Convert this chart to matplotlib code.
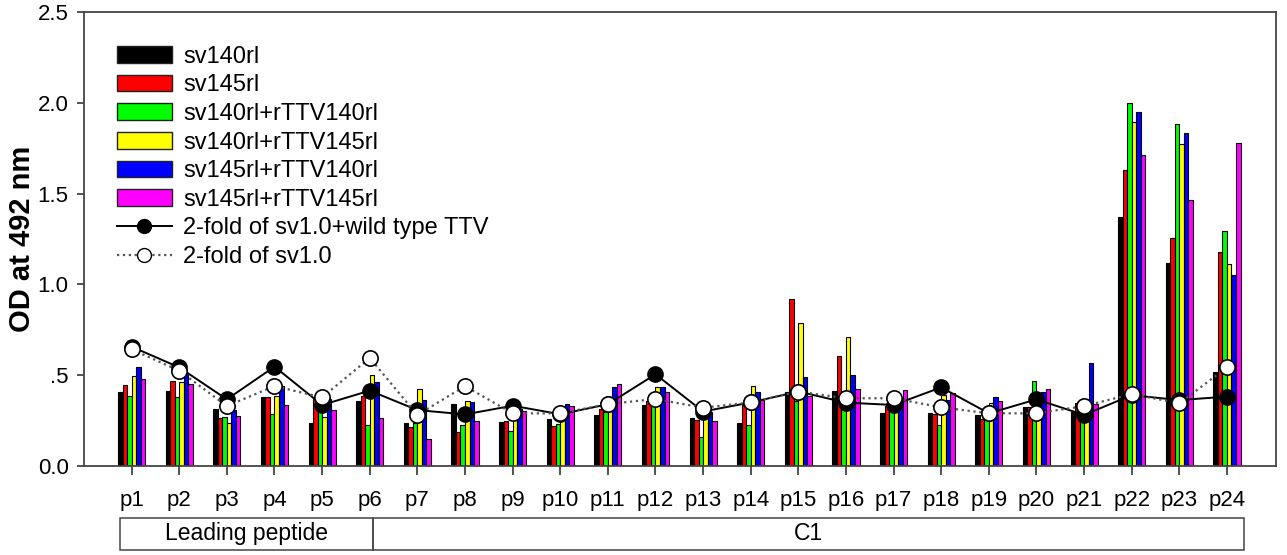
import matplotlib
matplotlib.use("Agg")
import matplotlib.pyplot as plt
import matplotlib.patches as mpatches
import matplotlib.transforms as mtransforms
from matplotlib.lines import Line2D
import numpy as np

plt.rcParams["font.family"] = ["Liberation Sans", "DejaVu Sans"]

peptides = [f"p{i}" for i in range(1, 25)]

series_names = [
    "sv140rl",
    "sv145rl",
    "sv140rl+rTTV140rl",
    "sv140rl+rTTV145rl",
    "sv145rl+rTTV140rl",
    "sv145rl+rTTV145rl",
]
series_colors = ["#000000", "#FF0000", "#00FF00", "#FFFF00", "#0000FF", "#FF00FF"]

sv140rl = [0.405, 0.411, 0.312, 0.382, 0.235, 0.360, 0.235, 0.341, 0.244, 0.261, 0.283, 0.334,
           0.263, 0.235, 0.406, 0.415, 0.294, 0.290, 0.281, 0.327, 0.300, 1.370, 1.120, 0.520]
sv145rl = [0.446, 0.466, 0.263, 0.382, 0.367, 0.385, 0.217, 0.187, 0.249, 0.222, 0.312, 0.360,
           0.253, 0.336, 0.920, 0.607, 0.330, 0.285, 0.257, 0.323, 0.345, 1.630, 1.257, 1.178]
sv140_r140 = [0.384, 0.378, 0.268, 0.286, 0.305, 0.228, 0.239, 0.226, 0.194, 0.230, 0.300, 0.341,
              0.158, 0.228, 0.360, 0.312, 0.335, 0.226, 0.260, 0.468, 0.280, 2.000, 1.881, 1.296]
sv140_r145 = [0.497, 0.461, 0.235, 0.387, 0.268, 0.503, 0.422, 0.358, 0.300, 0.253, 0.310, 0.433,
              0.290, 0.440, 0.786, 0.712, 0.335, 0.390, 0.345, 0.400, 0.300, 1.894, 1.773, 1.110]
sv145_r140 = [0.543, 0.510, 0.308, 0.440, 0.367, 0.464, 0.363, 0.352, 0.312, 0.341, 0.437, 0.433,
              0.300, 0.406, 0.488, 0.503, 0.363, 0.363, 0.378, 0.409, 0.565, 1.951, 1.836, 1.052]
sv145_r145 = [0.479, 0.450, 0.275, 0.338, 0.308, 0.264, 0.149, 0.248, 0.305, 0.332, 0.452, 0.406,
              0.250, 0.363, 0.385, 0.426, 0.418, 0.400, 0.360, 0.426, 0.341, 1.713, 1.465, 1.777]
bar_series = [sv140rl, sv145rl, sv140_r140, sv140_r145, sv145_r140, sv145_r145]

wild_ttv = [0.657, 0.543, 0.367, 0.547, 0.336, 0.415, 0.308, 0.284, 0.332, 0.285, 0.340, 0.505,
            0.300, 0.350, 0.410, 0.349, 0.336, 0.433, 0.290, 0.367, 0.281, 0.390, 0.363, 0.382]
sv10 = [0.642, 0.525, 0.330, 0.440, 0.378, 0.595, 0.281, 0.440, 0.290, 0.290, 0.341, 0.369,
        0.321, 0.350, 0.410, 0.373, 0.373, 0.323, 0.290, 0.290, 0.330, 0.396, 0.345, 0.543]

regions = ["Leading peptide", "C1"]

W, H = 1287, 555
fig = plt.figure(figsize=(W / 100, H / 100), dpi=100)
ax = fig.add_axes([84 / W, 1 - 466 / H, (1276 - 84) / W, (466 - 12) / H])

x = np.arange(len(peptides))
bw = 0.095
for i, (vals, col) in enumerate(zip(bar_series, series_colors)):
    ax.bar(x + (i - 2.5) * bw, vals, bw, color=col, edgecolor="black",
           linewidth=0.8, zorder=2)

ax.plot(x, wild_ttv, "-", color="black", lw=1.4, marker="o", ms=11,
        mfc="black", mec="black", zorder=3)
ax.plot(x, sv10, ":", color="#555555", lw=1.6, marker="o", ms=11,
        mfc="white", mec="black", mew=1.2, zorder=4)

ax.set_xlim(-1, 24.03)
ax.set_ylim(0, 2.5)
ax.set_xticks(x)
ax.set_xticklabels(peptides, fontsize=16)
ax.set_yticks([0, 0.5, 1.0, 1.5, 2.0, 2.5])
ax.set_yticklabels(["0.0", ".5", "1.0", "1.5", "2.0", "2.5"], fontsize=16)
ax.tick_params(axis="x", direction="out", length=6.5, width=1.2, pad=11, colors="#333333",
               labelcolor="black")
ax.tick_params(axis="y", direction="out", length=5, width=1.2, pad=6, colors="#333333",
               labelcolor="black")
for s in ax.spines.values():
    s.set_linewidth(1.3)
    s.set_color("#444444")

ax.set_ylabel("OD at 492 nm", fontsize=21, fontweight="bold")
ax.yaxis.set_label_coords((36 - 84) / (1276 - 84), 0.5)

# region box under the tick labels
trans = mtransforms.blended_transform_factory(ax.transData, ax.transAxes)
y0, y1 = -0.185, -0.1145
bounds = [-0.246, 5.06, 23.35]
for k, name in enumerate(regions):
    rect = mpatches.Rectangle((bounds[k], y0), bounds[k + 1] - bounds[k], y1 - y0,
                              transform=trans, fill=False, edgecolor="#444444",
                              linewidth=1.1, clip_on=False)
    ax.add_patch(rect)
    ax.text((bounds[k] + bounds[k + 1]) / 2, (y0 + y1) / 2, name, transform=trans,
            ha="center", va="center", fontsize=16.5)

handles = [mpatches.Patch(facecolor=c, edgecolor="#222222", linewidth=1.0, label=n)
           for c, n in zip(series_colors, series_names)]
handles.append(Line2D([], [], color="black", lw=1.4, marker="o", ms=10, mfc="black",
                      mec="black", label="2-fold of sv1.0+wild type TTV"))
handles.append(Line2D([], [], color="#555555", lw=1.6, ls=":", marker="o", ms=10,
                      mfc="white", mec="black", label="2-fold of sv1.0"))
ax.legend(handles=handles, loc="upper left", bbox_to_anchor=(0.014, 0.962), frameon=False,
          fontsize=17, handlelength=2.3, handleheight=0.7, labelspacing=0.28,
          handletextpad=0.5, borderaxespad=0.3)

fig.savefig("out.png", dpi=100)
